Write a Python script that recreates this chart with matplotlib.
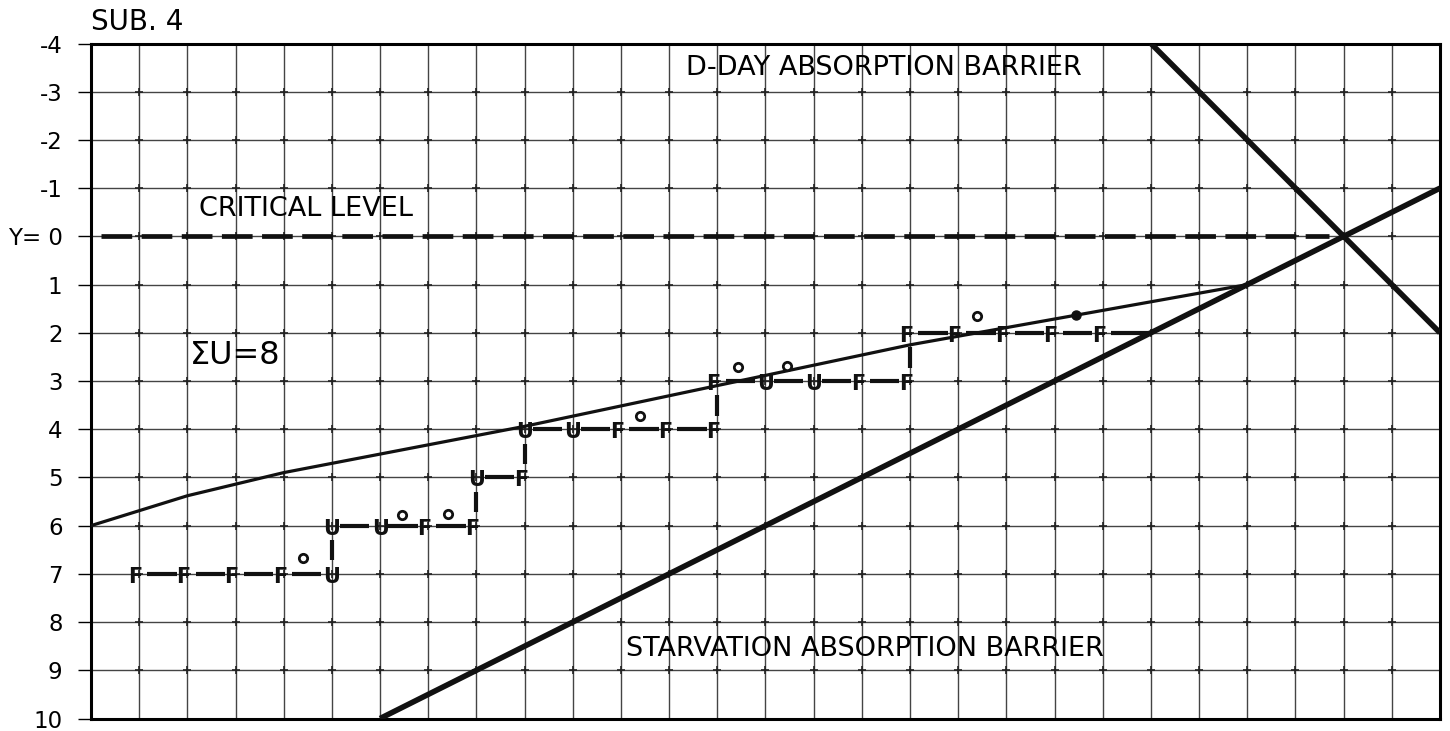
import matplotlib
matplotlib.use("Agg")
import matplotlib.pyplot as plt
import numpy as np

# axis ticks (y axis runs downward)
y_ticks = [-4, -3, -2, -1, 0, 1, 2, 3, 4, 5, 6, 7, 8, 9, 10]
y_tick_labels = ["-4", "-3", "-2", "-1", "Y= 0", "1", "2", "3", "4", "5", "6", "7", "8", "9", "10"]
x_max = 28

# barriers and levels
critical_x = [0.2, 25.7]
critical_y = [0, 0]
dday_x = [22, 28]
dday_y = [-4, 2]
starve_x = [6, 28]
starve_y = [10, -1]
trend_x = [0, 2, 4, 9, 17, 24]
trend_y = [6.0, 5.38, 4.9, 3.94, 2.25, 1.0]

# F / U walk
walk_x = [1, 2, 3, 4, 5, 5, 6, 7, 8, 8, 9, 9, 10, 11, 12, 13,
          13, 14, 15, 16, 17, 17, 18, 19, 20, 21]
walk_y = [7, 7, 7, 7, 7, 6, 6, 6, 6, 5, 5, 4, 4, 4, 4, 4,
          3, 3, 3, 3, 3, 2, 2, 2, 2, 2]
walk_lbl = list("FFFFU" "UUFF" "UF" "UUFFF" "FUUFF" "FFFFF")
walk_end = (22, 2)

# small circles above the walk
ring_x = [4.4, 6.45, 7.42, 11.4, 13.43, 14.45, 18.4]
ring_y = [6.68, 5.77, 5.75, 3.73, 2.7, 2.68, 1.66]
dot_x = [20.45]
dot_y = [1.64]

fig = plt.figure(figsize=(14.5, 7.31), dpi=100)
ax = fig.add_axes([91 / 1450, 1 - 718.5 / 731, 1349 / 1450, 675 / 731])

ax.set_xlim(0, x_max)
ax.set_ylim(10, -4)
ax.set_xticks(np.arange(0, x_max + 1))
ax.set_yticks(y_ticks)
ax.set_yticklabels(y_tick_labels, fontsize=16.5)
ax.tick_params(axis="x", length=0, labelbottom=False)
ax.tick_params(axis="y", direction="out", length=9.5, width=1, pad=11, colors="black")
ax.grid(True, color="#444444", lw=1.0)
for s in ax.spines.values():
    s.set_linewidth(2.2)
    s.set_color("black")

# grid crossings
gx, gy = np.meshgrid(np.arange(1, x_max), np.arange(-3, 10))
ax.plot(gx.ravel(), gy.ravel(), "+", color="#222", ms=6, mew=1.2, zorder=2)

ax.plot(critical_x, critical_y, color="#111", lw=3.4, dashes=(6.5, 2), zorder=3)
ax.plot(dday_x, dday_y, color="#111", lw=4, solid_capstyle="butt", zorder=3)
ax.plot(starve_x, starve_y, color="#111", lw=4, solid_capstyle="butt", zorder=3)
ax.plot(trend_x, trend_y, color="#111", lw=2.3, zorder=3)

# walk connectors
pts = list(zip(walk_x, walk_y)) + [walk_end]
for (x0, y0), (x1, y1) in zip(pts[:-1], pts[1:]):
    if y0 == y1:
        ax.plot([x0 + 0.17, x1 - 0.22 if (x1, y1) != walk_end else x1],
                [y0, y1], color="#111", lw=3, solid_capstyle="butt", zorder=4)
    else:
        ax.plot([x0, x1], [y0 - 0.28, y1 + 0.3], color="#111", lw=3,
                solid_capstyle="butt", zorder=4)

for x, y, c in zip(walk_x, walk_y, walk_lbl):
    off = -0.08 if c == "F" else 0
    ax.text(x + off, y + 0.06, c, ha="center", va="center", fontsize=15,
            fontweight="bold", color="#111", zorder=5)

ax.plot(ring_x, ring_y, "o", ms=6, mfc="white", mec="#111", mew=2, zorder=5)
ax.plot(dot_x, dot_y, "o", ms=6.5, color="#111", zorder=5)

ax.text(16.46, -3.5, "D-DAY ABSORPTION BARRIER", ha="center", va="center", fontsize=19.5)
ax.text(4.47, -0.56, "CRITICAL LEVEL", ha="center", va="center", fontsize=19.5)
ax.text(2.06, 2.47, "\u03a3U=8", ha="left", va="center", fontsize=23)
ax.text(16.07, 8.55, "STARVATION ABSORPTION BARRIER", ha="center", va="center", fontsize=19.5)

fig.text(91 / 1450, 1 - 30 / 731, "SUB. 4", ha="left", va="baseline", fontsize=20)

fig.savefig("out.png", dpi=100)
